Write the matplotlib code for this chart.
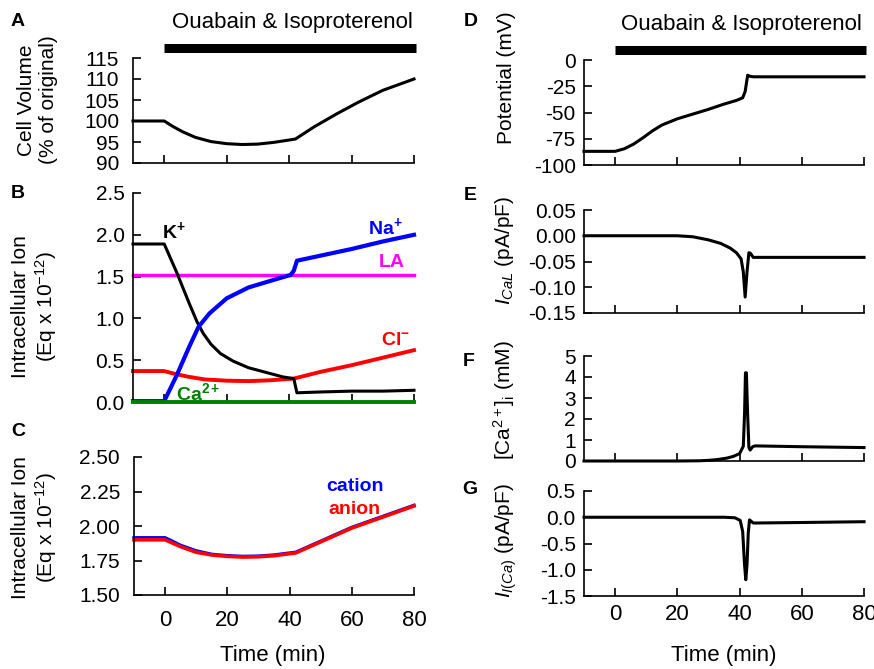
"""Cell volume and ion response to ouabain & isoproterenol (panels A-G)."""

import matplotlib
matplotlib.use("Agg")
import matplotlib.pyplot as plt

plt.rcParams["font.family"] = ["Liberation Sans", "DejaVu Sans"]
plt.rcParams["mathtext.fontset"] = "custom"
plt.rcParams["mathtext.rm"] = "Liberation Sans"
plt.rcParams["mathtext.it"] = "Liberation Sans:italic"
plt.rcParams["mathtext.bf"] = "Liberation Sans:bold"
plt.rcParams["axes.unicode_minus"] = False

# drug application window (min)
drug_start, drug_end = 0, 80

# A: cell volume (% of original)
t_vol = [-10, 0, 3, 6, 10, 15, 20, 25, 30, 35, 42, 48, 55, 62, 70, 80]
vol = [100, 100, 98.6, 97.4, 96.1, 95.1, 94.6, 94.4, 94.5, 94.9, 95.7,
       98.6, 101.6, 104.4, 107.3, 110.0]

# B: intracellular ions (Eq x 1e-12)
t_k = [-10, 0, 4, 8, 10.5, 12.5, 15, 18, 22, 27, 33, 38, 41.5, 42.5, 50, 60, 70, 80]
k_ion = [1.89, 1.89, 1.55, 1.18, 0.96, 0.82, 0.69, 0.58, 0.49, 0.41, 0.35, 0.30,
         0.28, 0.11, 0.12, 0.13, 0.13, 0.14]
t_na = [-10, 0, 4, 8, 11, 14.5, 20, 27, 35, 40.5, 41.5, 42.5, 50, 60, 70, 80]
na_ion = [0.01, 0.01, 0.32, 0.66, 0.90, 1.06, 1.24, 1.37, 1.46, 1.52, 1.57, 1.69,
          1.75, 1.83, 1.92, 2.00]
t_cl = [-10, 0, 3, 8, 13, 20, 27, 34, 41.5, 50, 60, 70, 80]
cl_ion = [0.37, 0.37, 0.34, 0.30, 0.27, 0.255, 0.25, 0.26, 0.28, 0.36, 0.44, 0.53, 0.62]
t_flat = [-10, 80]
la_ion = [1.52, 1.52]
ca_ion = [0.0, 0.0]

# C: total cation / anion
t_tot = [-10, 0, 5, 10, 15, 20, 25, 30, 35, 42, 50, 60, 70, 80]
cation = [1.915, 1.915, 1.86, 1.82, 1.795, 1.785, 1.78, 1.782, 1.79, 1.81,
          1.89, 1.99, 2.07, 2.15]
anion = [1.90, 1.90, 1.85, 1.81, 1.79, 1.78, 1.775, 1.777, 1.785, 1.805,
         1.885, 1.985, 2.065, 2.145]

# D: membrane potential (mV)
t_pot = [-10, 0, 3, 6, 9, 12, 15, 20, 25, 30, 35, 39, 41, 41.8, 42.6, 43.3, 44.5, 60, 80]
pot = [-87, -87, -84.5, -80, -74, -67.5, -62, -56, -51.5, -47, -42, -38.5, -36,
       -30, -14.5, -15.5, -16, -16, -16]

# E: I_CaL (pA/pF)
t_ical = [-10, 0, 10, 20, 25, 30, 34, 37, 39, 40.5, 41.2, 41.8, 42.4, 43.0, 43.5,
          44.4, 60, 80]
ical = [0, 0, 0, 0, -0.002, -0.008, -0.015, -0.024, -0.033, -0.045, -0.07, -0.119,
        -0.07, -0.033, -0.034, -0.042, -0.042, -0.042]

# F: [Ca2+]i (mM)
t_cai = [-10, 0, 20, 27, 30, 33, 36, 38, 40, 41.2, 41.6, 41.9, 42.2, 42.6, 43.0,
         43.4, 44.2, 45, 60, 80]
cai = [0, 0, 0, 0.01, 0.03, 0.07, 0.14, 0.22, 0.35, 0.7, 2.2, 4.2, 4.2, 2.2, 0.65,
       0.52, 0.68, 0.72, 0.68, 0.64]

# G: I_I(Ca) (pA/pF)
t_iica = [-10, 0, 35, 38.5, 40.2, 41, 41.6, 42.0, 42.4, 42.8, 43.2, 44.4, 60, 80]
iica = [0, 0, 0, -0.01, -0.06, -0.27, -0.9, -1.19, -0.9, -0.3, -0.05, -0.11, -0.1, -0.085]

x_ticks = [0, 20, 40, 60, 80]

W, H = 874, 669


def fx(px):
    return px / W


def fy(py):
    return 1 - py / H


def make_axes(fig, left, right, top, bottom):
    ax = fig.add_axes([fx(left), fy(bottom), fx(right) - fx(left), fy(top) - fy(bottom)])
    for side in ("top", "right"):
        ax.spines[side].set_visible(False)
    for side in ("left", "bottom"):
        ax.spines[side].set_linewidth(1.2)
    ax.set_xlim(-10, 80)
    ax.set_xticks(x_ticks)
    ax.tick_params(direction="in", length=6, width=1.2, labelsize=15)
    ax.tick_params(axis="x", labelbottom=False)
    return ax


def drug_bar(ax, text_x):
    ax.plot([drug_start, drug_end + 0.5], [1.095, 1.095], color="black", lw=6.5,
            solid_capstyle="butt", transform=ax.get_xaxis_transform(), clip_on=False)
    ax.text(text_x, 1.335, "Ouabain & Isoproterenol", ha="center", va="center",
            fontsize=16, transform=ax.get_xaxis_transform())


fig = plt.figure(figsize=(8.74, 6.69), dpi=100)

lw = 2.2

# ---- left column ----
ax_a = make_axes(fig, 133, 414, 58, 163)
ax_a.plot(t_vol, vol, color="black", lw=lw, clip_on=False)
ax_a.set_ylim(90, 115)
ax_a.set_yticks([90, 95, 100, 105, 110, 115])
ax_a.tick_params(axis="y", pad=10)
drug_bar(ax_a, 41)

ax_b = make_axes(fig, 133, 414, 193, 402)
ax_b.plot(t_flat, la_ion, color="#ff00ff", lw=2.5, clip_on=False)
ax_b.plot(t_cl, cl_ion, color="#ff0000", lw=2.8, clip_on=False)
ax_b.plot(t_k, k_ion, color="black", lw=lw, clip_on=False)
ax_b.plot(t_na, na_ion, color="#0000ff", lw=3.0, clip_on=False)
ax_b.plot(t_flat, ca_ion, color="#008000", lw=2.8, clip_on=False, zorder=5)
ax_b.set_ylim(0, 2.5)
ax_b.set_yticks([0, 0.5, 1.0, 1.5, 2.0, 2.5])
ax_b.set_yticklabels(["0.0", "0.5", "1.0", "1.5", "2.0", "2.5"])
ax_b.tick_params(axis="y", pad=6)
ion_kw = dict(ha="center", va="center", fontsize=14)
ax_b.text(3.2, 2.04, r"$\mathbf{K^{+}}$", color="black", **ion_kw)
ax_b.text(70.7, 2.09, r"$\mathbf{Na^{+}}$", color="#0000ff", **ion_kw)
ax_b.text(73, 1.67, "LA", color="#ff00ff", fontweight="bold", **ion_kw)
ax_b.text(74, 0.73, r"$\mathbf{Cl^{-}}$", color="#ff0000", **ion_kw)
ax_b.text(11, 0.10, r"$\mathbf{Ca^{2+}}$", color="#008000", **ion_kw)

ax_c = make_axes(fig, 134, 414, 457, 595)
ax_c.plot(t_tot, cation, color="#0000ff", lw=2.4, clip_on=False)
ax_c.plot(t_tot, anion, color="#ff0000", lw=2.6, clip_on=False)
ax_c.set_ylim(1.5, 2.5)
ax_c.set_yticks([1.5, 1.75, 2.0, 2.25, 2.5])
ax_c.set_yticklabels(["1.50", "1.75", "2.00", "2.25", "2.50"])
ax_c.tick_params(axis="y", pad=10)
ax_c.tick_params(axis="x", labelbottom=True, labelsize=16, pad=11)
ax_c.text(61, 2.285, "cation", color="#0000ff", fontweight="bold", ha="center",
          va="center", fontsize=14)
ax_c.text(61, 2.12, "anion", color="#ff0000", fontweight="bold", ha="center",
          va="center", fontsize=14)

# ---- right column ----
ax_d = make_axes(fig, 584, 864, 60, 165)
ax_d.plot(t_pot, pot, color="black", lw=lw, clip_on=False)
ax_d.set_ylim(-100, 0)
ax_d.set_yticks([-100, -75, -50, -25, 0])
ax_d.tick_params(axis="y", pad=6)
drug_bar(ax_d, 40.5)

ax_e = make_axes(fig, 584, 864, 210, 313)
ax_e.plot(t_ical, ical, color="black", lw=lw, clip_on=False)
ax_e.set_ylim(-0.15, 0.05)
ax_e.set_yticks([-0.15, -0.10, -0.05, 0.0, 0.05])
ax_e.set_yticklabels(["-0.15", "-0.10", "-0.05", "0.00", "0.05"])
ax_e.tick_params(axis="y", pad=6)

ax_f = make_axes(fig, 584, 864, 356, 461)
ax_f.plot(t_cai, cai, color="black", lw=lw, clip_on=False)
ax_f.set_ylim(0, 5)
ax_f.set_yticks([0, 1, 2, 3, 4, 5])
ax_f.tick_params(axis="y", pad=6)

ax_g = make_axes(fig, 584, 864, 491, 596)
ax_g.plot(t_iica, iica, color="black", lw=lw, clip_on=False)
ax_g.set_ylim(-1.5, 0.5)
ax_g.set_yticks([-1.5, -1.0, -0.5, 0.0, 0.5])
ax_g.set_yticklabels(["-1.5", "-1.0", "-0.5", "0.0", "0.5"])
ax_g.tick_params(axis="y", pad=6)
ax_g.tick_params(axis="x", labelbottom=True, labelsize=16, pad=6)

# ---- labels ----
lab_kw = dict(rotation=90, ha="center", va="center", fontsize=15, multialignment="center")
fig.text(fx(38), fy(100), "Cell Volume\n(% of original)", **lab_kw)
fig.text(fx(35), fy(307), "Intracellular Ion\n(Eq x 10$^{-12}$)", **lab_kw)
fig.text(fx(35), fy(528), "Intracellular Ion\n(Eq x 10$^{-12}$)", **lab_kw)
fig.text(fx(506), fy(78), "Potential (mV)", **lab_kw)
fig.text(fx(504), fy(250), "$I_{CaL}$ (pA/pF)", **lab_kw)
fig.text(fx(504), fy(400), r"[Ca$^{2+}$]$_\mathrm{i}$ (mM)", **lab_kw)
fig.text(fx(506), fy(541), "$I_{I(Ca)}$ (pA/pF)", **lab_kw)

fig.text(fx(273), fy(656), "Time (min)", ha="center", va="center", fontsize=16)
fig.text(fx(724), fy(656), "Time (min)", ha="center", va="center", fontsize=16)

for letter, px, py in [("A", 18, 21), ("B", 18, 194), ("C", 18, 431), ("D", 471, 21),
                       ("E", 470, 196), ("F", 469, 361), ("G", 470, 490)]:
    fig.text(fx(px), fy(py), letter, ha="center", va="center", fontsize=14,
             fontweight="bold")

fig.savefig("out.png", dpi=100)
